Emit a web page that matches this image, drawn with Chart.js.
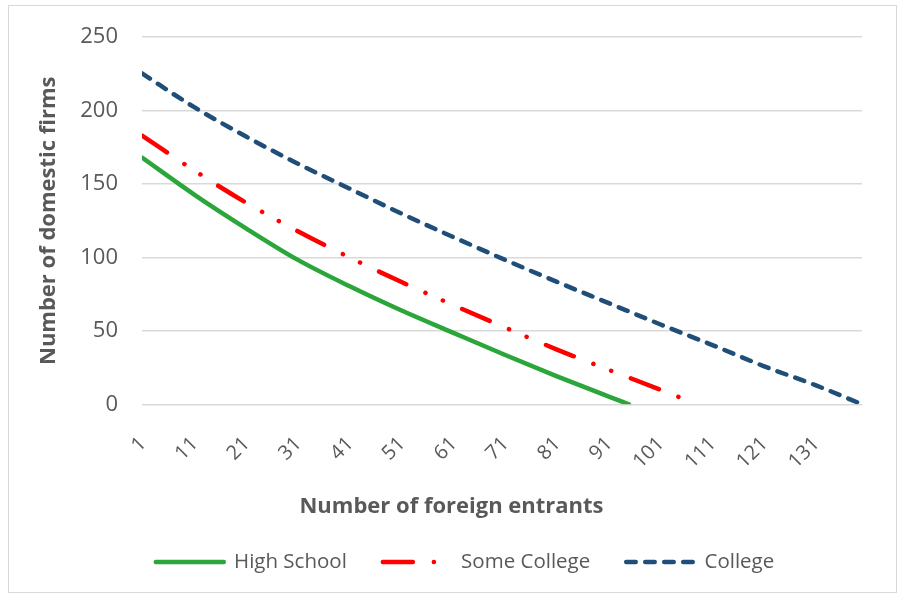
<!DOCTYPE html>
<html>
<head>
<meta charset="utf-8">
<script src="https://cdn.jsdelivr.net/npm/chart.js@4"></script>
<style>
  html, body { margin: 0; padding: 0; background: #fff; }
  #wrap { position: relative; width: 903px; height: 596px; }
  #frame { position: absolute; left: 8px; top: 5px; width: 889px; height: 588px; border: 1px solid #d9d9d9; box-sizing: border-box; }
  canvas { position: absolute; left: 0; top: 0; }
</style>
</head>
<body>
<div id="wrap">
  <div id="frame"></div>
  <canvas id="chart" width="903" height="596"></canvas>
</div>
<script>
// values (x = number of foreign entrants)
const xTicks = [1, 11, 21, 31, 41, 51, 61, 71, 81, 91, 101, 111, 121, 131];

const hsX = [1, 11, 21, 31, 41, 51, 61, 71, 81, 91, 95];
const hsY = [168, 143, 120, 98.5, 80.5, 64, 48.8, 33.7, 19.2, 5.4, 0];

const scX = [1, 11, 21, 31, 41, 51, 61, 71, 81, 91, 101, 106];
const scY = [183, 159.4, 137.5, 118, 100.1, 83.4, 67.7, 52.4, 37.4, 23.6, 10, 3];

const colX = [1, 11, 21, 31, 41, 51, 61, 71, 81, 91, 101, 111, 121, 131, 140];
const colY = [225.4, 202.5, 182.5, 164, 147, 130, 114, 98.5, 83.5, 69, 54.5, 40.5, 26, 13, 0];

const xTitle = 'Number of foreign entrants';
const yTitle = 'Number of domestic firms';

const grey = '#595959';
const fam = "'Open Sans', sans-serif";

function pts(xs, ys) {
  return xs.map((x, i) => ({ x: x, y: ys[i] }));
}

function lineSet(label, xs, ys, color, dash) {
  return {
    label: label,
    data: pts(xs, ys),
    borderColor: color,
    backgroundColor: color,
    borderWidth: 4.5,
    borderDash: dash,
    borderCapStyle: 'round',
    borderJoinStyle: 'round',
    cubicInterpolationMode: 'monotone',
    pointRadius: 0,
    fill: false
  };
}

// legend samples taken from the dataset line style (dash, cap, width)
function legendItems(chart) {
  return chart.data.datasets.map((ds, i) => ({
    text: ds.label,
    fillStyle: ds.borderColor,
    strokeStyle: ds.borderColor,
    lineWidth: ds.borderWidth,
    lineDash: ds.borderDash,
    lineCap: 'round',
    pointStyle: 'line',
    fontColor: grey,
    hidden: false,
    datasetIndex: i
  }));
}

// the x title sits centred on the whole picture, not on the plot area
const xTitlePlugin = {
  id: 'xTitle',
  afterDraw(chart) {
    const ctx = chart.ctx;
    ctx.save();
    ctx.font = "bold 22px " + fam;
    ctx.fillStyle = grey;
    ctx.textAlign = 'center';
    ctx.textBaseline = 'middle';
    ctx.fillText(xTitle, chart.width / 2, 507);
    ctx.restore();
  }
};

new Chart(document.getElementById('chart'), {
  type: 'line',
  data: {
    datasets: [
      lineSet('High School', hsX, hsY, '#2ba63a', []),
      lineSet('Some College', scX, scY, '#ff0000', [30, 21, 0.1, 19, 0.1, 21]),
      lineSet('College', colX, colY, '#1f4e79', [9.5, 9.5])
    ]
  },
  plugins: [xTitlePlugin],
  options: {
    responsive: false,
    animation: false,
    layout: { padding: { top: 34, right: 41, bottom: 13.75, left: 68 } },
    plugins: {
      tooltip: { enabled: false },
      legend: {
        position: 'bottom',
        labels: {
          usePointStyle: true,
          pointStyleWidth: 68,
          padding: 36,
          color: grey,
          font: { family: fam, size: 20.5 },
          generateLabels: legendItems
        }
      }
    },
    scales: {
      x: {
        type: 'linear',
        min: 1,
        max: 140,
        grid: { display: false },
        border: { display: false },
        afterBuildTicks: s => { s.ticks = xTicks.map(v => ({ value: v })); },
        afterFit: s => { s.height = 111.5; },
        ticks: {
          autoSkip: false,
          minRotation: 45,
          maxRotation: 45,
          padding: 20,
          labelOffset: 1,
          color: grey,
          font: { family: fam, size: 20 }
        }
      },
      y: {
        min: 0,
        max: 250,
        afterFit: s => { s.width = 74; },
        grid: { color: '#d9d9d9', lineWidth: 1.5, drawTicks: false },
        border: { display: false },
        ticks: {
          stepSize: 50,
          padding: 24,
          color: grey,
          font: { family: fam, size: 22 }
        },
        title: {
          display: true,
          text: yTitle,
          color: grey,
          font: { family: fam, size: 22, weight: 'bold' },
          padding: { top: -32.5, bottom: 0 }
        }
      }
    }
  }
});
</script>
</body>
</html>
